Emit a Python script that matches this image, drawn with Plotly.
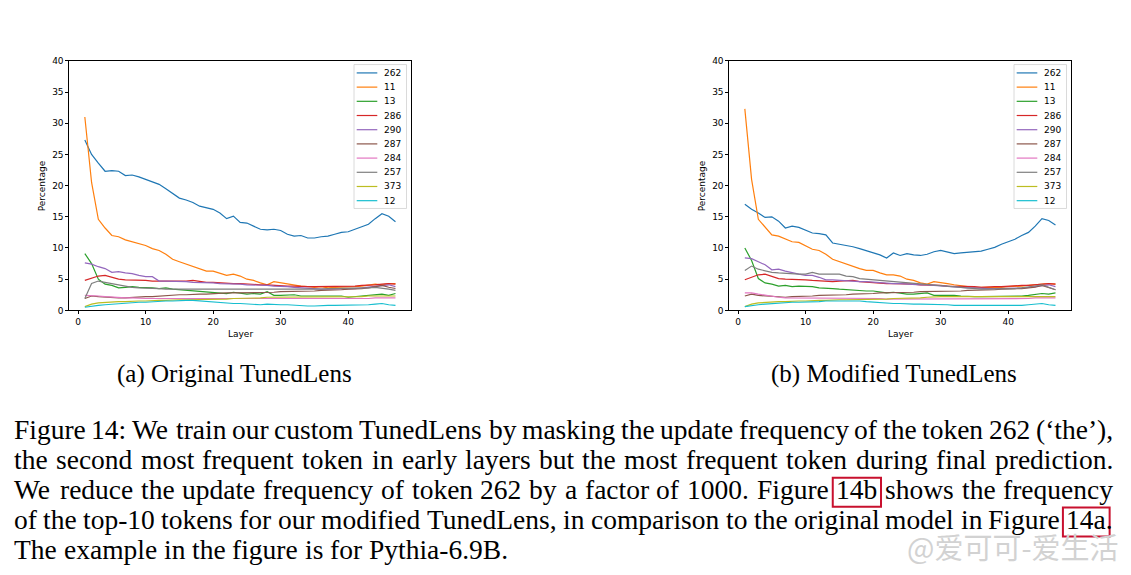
import plotly.graph_objs as go

# the page body keeps its 8px margin, so the figure is 8px smaller and
# every position below is given in window pixels and shifted back by OFF
OFF = 8
W, H = 1131, 575
FW, FH = W - OFF, H - OFF

layers = list(range(1, 48))
tokens = ["262", "11", "13", "286", "290", "287", "284", "257", "373", "12"]
colors = ["#1f77b4", "#ff7f0e", "#2ca02c", "#d62728", "#9467bd",
          "#8c564b", "#e377c2", "#7f7f7f", "#bcbd22", "#17becf"]

# (a) original TunedLens, percentage per layer
orig_262 = [27.3, 25.0, 23.6, 22.3, 22.4, 22.3, 21.6, 21.7, 21.4, 21.0,
            20.5, 20.2, 19.5, 18.7, 18.0, 17.7, 17.3, 16.7, 16.4, 16.2,
            15.6, 14.7, 15.1, 14.1, 14.0, 13.5, 13.0, 12.9, 13.0, 12.8,
            12.2, 11.9, 12.0, 11.6, 11.6, 11.8, 11.9, 12.2, 12.5, 12.6,
            13.0, 13.5, 13.8, 14.7, 15.5, 15.1, 14.2]
orig_11 = [31.0, 20.5, 14.6, 13.2, 12.0, 11.8, 11.3, 11.0, 10.8, 10.4,
           9.9, 9.6, 9.0, 8.2, 7.8, 7.4, 7.0, 6.7, 6.3, 6.3,
           5.9, 5.6, 5.8, 5.5, 5.0, 4.8, 4.4, 4.1, 4.6, 4.4,
           4.3, 4.1, 3.9, 3.8, 3.7, 3.8, 3.6, 3.7, 3.7, 3.8,
           3.8, 3.9, 4.0, 4.2, 4.1, 4.3, 4.3]
orig_13 = [9.1, 7.5, 5.0, 4.2, 4.0, 3.6, 3.7, 3.8, 3.7, 3.7,
           3.6, 3.5, 3.6, 3.4, 3.3, 3.2, 3.1, 3.0, 2.9, 2.9,
           2.8, 2.7, 2.9, 2.8, 2.6, 2.7, 2.6, 3.0, 2.4, 2.4,
           2.4, 2.5, 2.3, 2.3, 2.3, 2.2, 2.2, 2.2, 2.3, 2.1,
           2.2, 2.3, 2.3, 2.5, 2.6, 2.4, 2.7]
orig_286 = [4.8, 5.1, 5.5, 5.6, 5.3, 5.0, 4.9, 4.9, 4.9, 4.8,
            4.7, 4.7, 4.6, 4.6, 4.7, 4.7, 4.8, 4.6, 4.5, 4.5,
            4.4, 4.4, 4.3, 4.3, 4.2, 4.2, 4.1, 4.1, 4.0, 4.0,
            3.9, 3.9, 3.8, 3.8, 3.8, 3.8, 3.8, 3.8, 3.8, 3.9,
            3.9, 4.0, 4.0, 4.1, 4.2, 4.3, 4.2]
orig_290 = [7.6, 7.4, 7.0, 6.7, 6.1, 6.2, 6.0, 5.9, 5.6, 5.4,
            5.4, 4.7, 4.7, 4.7, 4.6, 4.6, 4.5, 4.5, 4.4, 4.4,
            4.3, 4.3, 4.2, 4.2, 4.1, 4.1, 4.0, 4.0, 3.9, 3.9,
            3.8, 3.7, 3.6, 3.5, 3.5, 3.4, 3.4, 3.4, 3.4, 3.5,
            3.5, 3.6, 3.7, 3.8, 4.0, 4.1, 3.8]
orig_287 = [1.9, 2.3, 2.2, 2.1, 2.0, 2.0, 2.0, 2.1, 2.1, 2.2,
            2.2, 2.3, 2.4, 2.4, 2.5, 2.5, 2.6, 2.6, 2.6, 2.7,
            2.7, 2.8, 2.8, 2.8, 2.8, 2.9, 2.9, 2.9, 2.9, 3.0,
            3.0, 3.0, 3.1, 3.1, 3.1, 3.2, 3.2, 3.3, 3.3, 3.4,
            3.4, 3.5, 3.6, 3.8, 4.0, 3.7, 3.5]
orig_284 = [2.4, 2.4, 2.3, 2.2, 2.1, 2.0, 2.0, 2.0, 1.9, 1.9,
            1.9, 1.9, 1.9, 1.9, 1.9, 1.9, 1.9, 1.9, 1.9, 1.9,
            1.8, 1.8, 1.8, 1.8, 1.8, 1.8, 1.8, 1.8, 1.8, 1.8,
            1.8, 1.8, 1.8, 1.8, 1.8, 1.8, 1.8, 1.8, 1.9, 1.9,
            1.9, 1.9, 1.9, 2.0, 2.0, 2.0, 2.0]
orig_257 = [1.9, 4.3, 4.7, 4.5, 4.3, 4.0, 3.8, 3.7, 3.6, 3.6,
            3.6, 3.5, 3.4, 3.4, 3.3, 3.3, 3.3, 3.3, 3.3, 3.3,
            3.3, 3.3, 3.3, 3.3, 3.3, 3.3, 3.4, 3.4, 3.4, 3.4,
            3.4, 3.4, 3.4, 3.4, 3.4, 3.4, 3.5, 3.5, 3.5, 3.5,
            3.5, 3.5, 3.6, 3.7, 3.6, 3.4, 3.2]
orig_373 = [0.6, 1.0, 1.2, 1.3, 1.3, 1.4, 1.4, 1.5, 1.5, 1.5,
            1.6, 1.6, 1.6, 1.7, 1.7, 1.7, 1.7, 1.8, 1.8, 1.8,
            1.8, 1.8, 1.9, 1.9, 1.9, 2.0, 2.0, 2.1, 2.1, 2.2,
            2.2, 2.2, 2.2, 2.2, 2.2, 2.2, 2.2, 2.2, 2.2, 2.2,
            2.2, 2.2, 2.3, 2.3, 2.3, 2.3, 2.3]
orig_12 = [0.5, 0.7, 0.8, 0.9, 1.0, 1.1, 1.2, 1.2, 1.3, 1.3,
           1.4, 1.4, 1.5, 1.5, 1.6, 1.6, 1.6, 1.5, 1.4, 1.3,
           1.2, 1.2, 1.1, 1.1, 1.0, 1.0, 0.9, 1.0, 0.9, 0.9,
           0.9, 0.8, 0.8, 0.7, 0.7, 0.8, 0.8, 0.8, 0.8, 0.8,
           0.8, 0.8, 0.9, 1.0, 1.1, 0.9, 0.8]

# (b) modified TunedLens
mod_262 = [17.0, 16.2, 15.6, 14.9, 15.0, 14.3, 13.2, 13.5, 13.3, 12.9,
           12.4, 12.3, 12.1, 10.8, 10.6, 10.5, 10.2, 9.9, 9.6, 9.3,
           8.9, 8.4, 9.2, 8.8, 9.1, 8.9, 8.8, 9.0, 9.4, 9.6,
           9.3, 9.1, 9.2, 9.3, 9.3, 9.5, 9.8, 10.1, 10.6, 11.0,
           11.4, 12.0, 12.5, 13.5, 14.7, 14.4, 13.7]
mod_11 = [32.3, 21.0, 14.6, 13.3, 12.1, 11.9, 11.4, 11.0, 10.9, 10.4,
          9.8, 9.6, 9.0, 8.2, 7.8, 7.4, 7.0, 6.7, 6.4, 6.4,
          6.0, 5.7, 5.7, 5.5, 5.0, 4.8, 4.4, 4.2, 4.6, 4.5,
          4.3, 4.1, 3.9, 3.8, 3.7, 3.7, 3.6, 3.6, 3.7, 3.8,
          3.8, 3.9, 4.0, 4.1, 4.2, 4.3, 4.2]
mod_13 = [10.0, 8.0, 5.1, 4.4, 4.2, 3.9, 4.0, 3.8, 3.9, 3.9,
          3.8, 3.6, 3.6, 3.5, 3.4, 3.3, 3.2, 3.1, 3.1, 3.1,
          2.9, 2.8, 2.9, 2.7, 2.6, 2.6, 2.7, 2.8, 2.4, 2.4,
          2.5, 2.4, 2.3, 2.2, 2.2, 2.2, 2.2, 2.2, 2.3, 2.2,
          2.2, 2.3, 2.4, 2.5, 2.7, 2.6, 2.8]
mod_286 = [4.9, 5.3, 5.7, 5.8, 5.4, 5.1, 5.0, 5.0, 5.0, 4.9,
           4.8, 4.7, 4.6, 4.6, 4.7, 4.7, 4.8, 4.6, 4.5, 4.4,
           4.4, 4.3, 4.3, 4.3, 4.2, 4.2, 4.1, 4.1, 4.0, 4.0,
           3.9, 3.9, 3.8, 3.8, 3.8, 3.7, 3.8, 3.8, 3.8, 3.9,
           3.9, 4.0, 4.0, 4.1, 4.2, 4.3, 4.2]
mod_290 = [8.4, 8.3, 7.8, 7.3, 6.5, 6.6, 6.3, 6.0, 5.8, 5.6,
           5.6, 5.3, 4.9, 4.9, 4.8, 4.8, 4.7, 4.6, 4.6, 4.5,
           4.4, 4.4, 4.3, 4.3, 4.2, 4.2, 4.1, 4.1, 4.0, 4.0,
           3.9, 3.8, 3.7, 3.6, 3.6, 3.5, 3.5, 3.5, 3.5, 3.5,
           3.6, 3.6, 3.7, 3.8, 4.0, 4.1, 3.8]
mod_287 = [2.3, 2.6, 2.4, 2.3, 2.2, 2.1, 2.1, 2.2, 2.2, 2.3,
           2.3, 2.4, 2.4, 2.5, 2.5, 2.5, 2.6, 2.6, 2.7, 2.7,
           2.8, 2.8, 2.9, 2.9, 2.9, 2.9, 3.0, 3.0, 3.0, 3.1,
           3.1, 3.1, 3.1, 3.2, 3.2, 3.3, 3.3, 3.3, 3.4, 3.4,
           3.5, 3.5, 3.6, 3.7, 4.0, 3.6, 3.3]
mod_284 = [2.8, 2.8, 2.6, 2.4, 2.2, 2.1, 2.0, 2.0, 1.9, 1.9,
           1.9, 1.9, 1.9, 1.9, 1.9, 1.9, 1.9, 1.9, 1.9, 1.9,
           1.9, 1.8, 1.8, 1.8, 1.8, 1.8, 1.8, 1.8, 1.8, 1.8,
           1.8, 1.8, 1.8, 1.8, 1.8, 1.8, 1.8, 1.8, 1.9, 1.9,
           1.9, 1.9, 1.9, 2.0, 2.0, 2.0, 2.0]
mod_257 = [6.4, 7.1, 6.6, 6.3, 6.1, 6.0, 5.9, 5.9, 5.8, 5.8,
           6.1, 5.8, 5.8, 5.7, 5.8, 5.5, 5.4, 5.1, 5.0, 4.9,
           4.8, 4.7, 4.6, 4.5, 4.4, 4.3, 4.2, 4.1, 4.0, 3.9,
           3.8, 3.7, 3.6, 3.5, 3.5, 3.4, 3.4, 3.4, 3.4, 3.5,
           3.5, 3.6, 3.7, 3.9, 4.1, 3.7, 3.3]
mod_373 = [0.6, 1.0, 1.2, 1.3, 1.3, 1.4, 1.4, 1.5, 1.5, 1.5,
           1.6, 1.6, 1.6, 1.7, 1.7, 1.7, 1.7, 1.8, 1.8, 1.8,
           1.8, 1.8, 1.9, 1.9, 1.9, 2.0, 2.0, 2.1, 2.2, 2.2,
           2.2, 2.2, 2.2, 2.2, 2.2, 2.2, 2.2, 2.2, 2.2, 2.2,
           2.2, 2.2, 2.2, 2.3, 2.3, 2.2, 2.2]
mod_12 = [0.6, 0.8, 0.9, 1.0, 1.1, 1.2, 1.2, 1.3, 1.3, 1.3,
          1.4, 1.4, 1.5, 1.5, 1.6, 1.6, 1.6, 1.5, 1.4, 1.3,
          1.2, 1.2, 1.1, 1.1, 1.0, 1.0, 1.0, 1.0, 1.0, 1.0,
          0.9, 0.8, 0.8, 0.7, 0.7, 0.8, 0.8, 0.8, 0.8, 0.8,
          0.8, 0.8, 0.9, 1.0, 1.1, 0.9, 0.8]

orig_series = [orig_262, orig_11, orig_13, orig_286, orig_290,
               orig_287, orig_284, orig_257, orig_373, orig_12]
mod_series = [mod_262, mod_11, mod_13, mod_286, mod_290,
              mod_287, mod_284, mod_257, mod_373, mod_12]

x_ticks = [0, 10, 20, 30, 40]
y_ticks = [0, 5, 10, 15, 20, 25, 30, 35, 40]

subcaptions = ["(a) Original TunedLens", "(b) Modified TunedLens"]
caption_lines = [
    "Figure 14: We train our custom TunedLens by masking the update frequency of the token 262 (\u2018the\u2019),",
    "the second most frequent token in early layers but the most frequent token during final prediction.",
    "We reduce the update frequency of token 262 by a factor of 1000. Figure 14b shows the frequency",
    "of the top-10 tokens for our modified TunedLens, in comparison to the original model in Figure 14a.",
    "The example in the figure is for Pythia-6.9B.",
]
linked = {"14b": "14b", "14a.": "14a"}
watermark = "@爱可可-爱生活"


def px(x):
    return (x - OFF) / FW


def py(y):
    return 1 - (y - OFF) / FH


# Times advance widths (1/1000 em), Liberation Serif matches them
TIMES_W = {" ": 250, "a": 444, "b": 500, "c": 444, "d": 500, "e": 444, "f": 333,
           "g": 500, "h": 500, "i": 278, "j": 278, "k": 500, "l": 278, "m": 778,
           "n": 500, "o": 500, "p": 500, "q": 500, "r": 333, "s": 389, "t": 278,
           "u": 500, "v": 500, "w": 722, "x": 500, "y": 500, "z": 444,
           "A": 722, "B": 667, "C": 667, "D": 722, "E": 611, "F": 556, "G": 722,
           "H": 722, "I": 333, "J": 389, "K": 722, "L": 611, "M": 889, "N": 722,
           "O": 722, "P": 556, "Q": 722, "R": 667, "S": 556, "T": 611, "U": 722,
           "V": 722, "W": 944, "X": 722, "Y": 722, "Z": 611,
           ".": 250, ",": 250, ":": 278, "(": 333, ")": 333, "-": 333,
           "\u2018": 333, "\u2019": 333}


def text_w(s, size):
    return sum(TIMES_W.get(c, 500) for c in s) * size / 1000


def note(text, x, y, size, family="DejaVu Sans", color="black", **kw):
    d = dict(text=text, x=px(x), y=py(y), xref="paper", yref="paper",
             showarrow=False, xanchor="center", yanchor="middle",
             borderpad=0, borderwidth=0,
             font=dict(family=family, size=size, color=color))
    d.update(kw)
    return d


panels = [
    dict(xa="x", ya="y", left=69.3, right=411.0, series=orig_series, cap_x=234),
    dict(xa="x2", ya="y2", left=729.3, right=1071.0, series=mod_series, cap_x=894),
]
top, bottom = 56.7, 310.7
small = 9

fig = go.Figure()
annotations = []
shapes = []

for i, p in enumerate(panels):
    for name, vals, col in zip(tokens, p["series"], colors):
        fig.add_trace(go.Scatter(x=layers, y=vals, name=name, mode="lines",
                                 line=dict(color=col, width=1.2),
                                 xaxis=p["xa"], yaxis=p["ya"], showlegend=False))

    suffix = "" if i == 0 else "2"
    axis_common = dict(showline=True, linecolor="black", linewidth=0.8, mirror=True,
                       ticks="outside", ticklen=3, tickwidth=0.8, tickcolor="black",
                       showgrid=False, zeroline=False,
                       tickfont=dict(family="DejaVu Sans", size=small, color="black"))
    fig.layout["xaxis" + suffix] = dict(domain=[px(p["left"]), px(p["right"])],
                                        range=[-1.3, 49.3], tickvals=x_ticks,
                                        anchor="y" + suffix, **axis_common)
    fig.layout["yaxis" + suffix] = dict(domain=[py(bottom), py(top)],
                                        range=[0, 40], tickvals=y_ticks,
                                        anchor="x" + suffix, **axis_common)

    # axis titles
    annotations.append(note("Layer", (p["left"] + p["right"]) / 2, 335, small))
    annotations.append(note("Percentage", p["left"] - 27.6, (top + bottom) / 2, small,
                            textangle=-90))

    # legend box in the upper right corner
    lx0, lx1 = p["right"] - 57, p["right"] - 4.5
    shapes.append(dict(type="rect", xref="paper", yref="paper",
                       x0=px(lx0), x1=px(lx1), y0=py(207), y1=py(60.5),
                       line=dict(color="#d0d0d0", width=0.8), fillcolor="white"))
    for k, (name, col) in enumerate(zip(tokens, colors)):
        yy = 69 + 14.45 * k
        shapes.append(dict(type="line", xref="paper", yref="paper",
                           x0=px(lx0 + 2.7), x1=px(lx0 + 23.3), y0=py(yy), y1=py(yy),
                           line=dict(color=col, width=1.2)))
        annotations.append(note(name, lx0 + 30, yy, small, xanchor="left"))

    annotations.append(note(subcaptions[i], p["cap_x"], 375, 25, family="Liberation Serif"))

# justified caption, word by word
cap_size = 27.5
left_edge, right_edge = 14, 1113
for n, line in enumerate(caption_lines):
    words = line.split(" ")
    widths = [text_w(w, cap_size) for w in words]
    if n < len(caption_lines) - 1:
        gap = (right_edge - left_edge - sum(widths)) / (len(words) - 1)
    else:
        gap = text_w(" ", cap_size)
    baseline = 441 + 30.5 * n
    xc = left_edge
    for w, wd in zip(words, widths):
        annotations.append(note(w, xc, baseline - 9.3, cap_size,
                                family="Liberation Serif", xanchor="left"))
        if w in linked:
            bw = text_w(linked[w], cap_size)
            shapes.append(dict(type="rect", xref="paper", yref="paper",
                               x0=px(xc - 3.5), x1=px(xc + bw + 3.5),
                               y0=py(baseline + 8.5), y1=py(baseline - 21),
                               line=dict(color="#c8102e", width=2)))
        xc += wd + gap

annotations.append(note(watermark, 1119, 551, 29, family="Noto Sans CJK SC",
                        color="#d2d2d2", xanchor="right"))

fig.update_layout(width=FW, height=FH, margin=dict(l=0, r=0, t=0, b=0),
                  paper_bgcolor="white", plot_bgcolor="white",
                  annotations=annotations, shapes=shapes)

fig.write_html("out.html")
